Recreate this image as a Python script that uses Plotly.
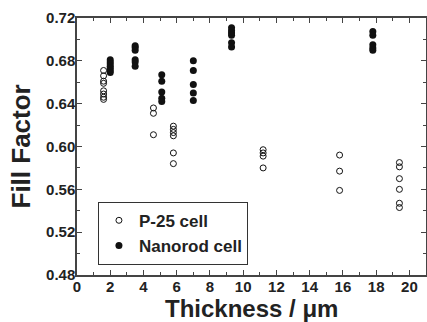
import plotly.graph_objects as go

# P-25 cell data (thickness um, fill factor)
p25_thickness = [1.6]*8 + [4.6]*3 + [5.8]*6 + [11.2]*4 + [15.8]*3 + [19.4]*6
p25_ff = [0.671, 0.666, 0.661, 0.659, 0.652, 0.649, 0.646, 0.644,
          0.636, 0.631, 0.611,
          0.619, 0.616, 0.613, 0.610, 0.594, 0.584,
          0.597, 0.594, 0.591, 0.580,
          0.592, 0.577, 0.559,
          0.585, 0.581, 0.570, 0.560, 0.547, 0.543]

# Nanorod cell data
nr_thickness = [2.0]*7 + [3.5]*6 + [5.1]*5 + [7.0]*5 + [9.3]*6 + [17.8]*5
nr_ff = [0.681, 0.679, 0.677, 0.675, 0.673, 0.671, 0.669,
         0.694, 0.6925, 0.690, 0.681, 0.679, 0.675,
         0.667, 0.661, 0.651, 0.645, 0.642,
         0.680, 0.671, 0.658, 0.650, 0.643,
         0.711, 0.708, 0.706, 0.704, 0.697, 0.693,
         0.7075, 0.704, 0.695, 0.692, 0.690]

x_ticks = list(range(0, 21, 2))
y_ticks = [0.48, 0.52, 0.56, 0.60, 0.64, 0.68, 0.72]

FONT = "Liberation Sans, Arial, sans-serif"
TXT = "#222222"
AX = "#444444"

fig = go.Figure()
fig.add_trace(go.Scatter(
    x=p25_thickness, y=p25_ff, mode="markers", name="<b>P-25 cell</b>",
    marker=dict(symbol="circle-open", size=6, color="#111111", line=dict(width=1, color="#111111")),
))
fig.add_trace(go.Scatter(
    x=nr_thickness, y=nr_ff, mode="markers", name="<b>Nanorod cell</b>",
    marker=dict(symbol="circle", size=7, color="#111111"),
))

axis_common = dict(
    showline=True, linecolor=AX, linewidth=1.5, mirror="allticks",
    ticks="inside", ticklen=5, tickwidth=1, tickcolor=AX,
    showgrid=False, zeroline=False, automargin=False,
    tickfont=dict(family=FONT, size=15, color=TXT),
)

fig.update_xaxes(
    range=[0, 21], tickvals=x_ticks, ticktext=[f"<b>{v}</b>" for v in x_ticks],
    minor=dict(dtick=1, tick0=0, ticks="inside", ticklen=3, tickcolor=AX, showgrid=False),
    ticklabelstandoff=-3,
    **axis_common,
)
fig.update_yaxes(
    range=[0.48, 0.72], tickvals=y_ticks, ticktext=[f"<b>{v:.2f}</b>" for v in y_ticks],
    minor=dict(dtick=0.02, tick0=0.48, ticks="inside", ticklen=3, tickcolor=AX, showgrid=False),
    ticklabelstandoff=-3,
    **axis_common,
)

fig.add_annotation(
    text="<b>Thickness / μm</b>", xref="paper", yref="paper", x=0.5, y=0,
    xanchor="center", yanchor="middle", yshift=-33, showarrow=False,
    font=dict(family=FONT, size=24, color=TXT),
)
fig.add_annotation(
    text="<b>Fill Factor</b>", xref="paper", yref="paper", x=0, y=0.5,
    xanchor="center", yanchor="middle", xshift=-57, textangle=-90, showarrow=False,
    font=dict(family=FONT, size=26, color=TXT),
)

fig.update_layout(
    width=427, height=322,
    margin=dict(l=77, r=1, t=18, b=47),
    paper_bgcolor="white", plot_bgcolor="white",
    showlegend=True,
    legend=dict(
        x=0.06, y=0.285, xanchor="left", yanchor="top",
        bordercolor="#333333", borderwidth=1, bgcolor="white",
        font=dict(family=FONT, size=17, color=TXT),
        itemwidth=30, tracegroupgap=0,
    ),
)

fig.write_html("out.html", config={"displayModeBar": False},
               post_script="document.body.style.margin='0';")
